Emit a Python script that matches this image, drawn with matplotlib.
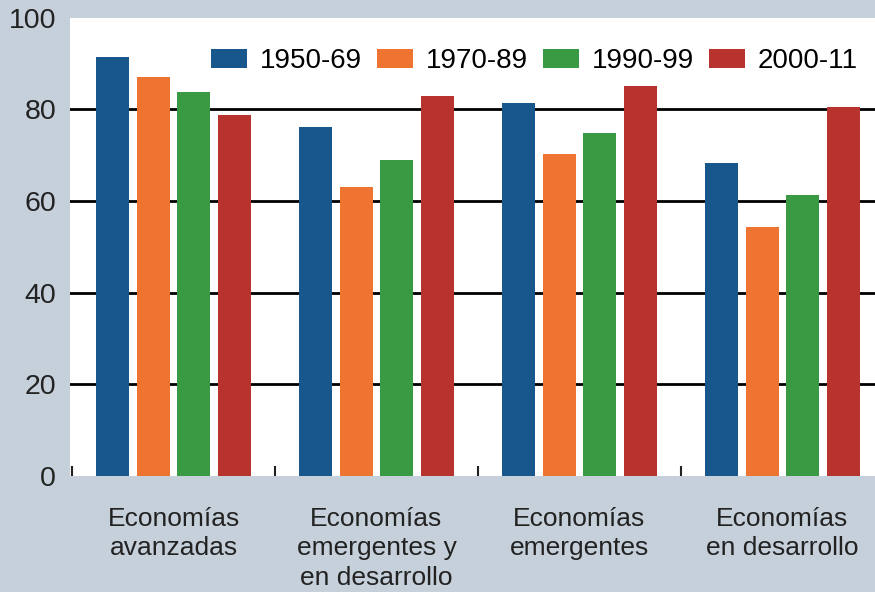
import numpy as np
import matplotlib.pyplot as plt

plt.rcParams['font.family'] = ['Liberation Sans', 'DejaVu Sans']

# Données
categories = ["Economías\navanzadas", "Economías\nemergentes y\nen desarrollo",
              "Economías\nemergentes", "Economías\nen desarrollo"]
periodes = ["1950-69", "1970-89", "1990-99", "2000-11"]
v_1950_69 = [91.4, 76.1, 81.3, 68.4]
v_1970_89 = [87.0, 63.0, 70.2, 54.4]
v_1990_99 = [83.7, 68.9, 74.8, 61.4]
v_2000_11 = [78.7, 82.9, 85.1, 80.5]
series = [v_1950_69, v_1970_89, v_1990_99, v_2000_11]
couleurs = ["#17578c", "#f07431", "#3a9a44", "#b8322e"]

fond = "#c5d0da"
fig = plt.figure(figsize=(8.75, 5.92), dpi=100, facecolor=fond)
ax = fig.add_axes([0.08, 0.196, 0.92, 0.774])
ax.set_facecolor("white")

x = np.arange(len(categories))
largeur = 0.163
pas = 0.2
for i, (vals, lab, c) in enumerate(zip(series, periodes, couleurs)):
    ax.bar(x + (i - 1.5) * pas, vals, largeur, color=c, label=lab, zorder=3)

ax.set_ylim(0, 100)
ax.set_xlim(-0.51, 3.456)
ax.set_yticks([0, 20, 40, 60, 80, 100])
for yv in [20, 40, 60, 80]:
    ax.axhline(yv, color="black", lw=2, zorder=1)

ax.set_xticks(x)
ax.set_xticklabels(categories, fontsize=19, color="#222222", linespacing=1.3)
ax.set_xticks(np.arange(-0.5, 3.5, 1.0), minor=True)
ax.tick_params(axis="x", which="major", length=0, pad=22)
ax.tick_params(axis="x", which="minor", direction="in", length=7, width=1.5, color="#222222")
ax.tick_params(axis="y", length=0, pad=10, labelsize=20.5, labelcolor="#222222")

for s in ax.spines.values():
    s.set_visible(False)

ax.legend(loc="center right", bbox_to_anchor=(0.979, 0.905), ncol=4, frameon=False,
          fontsize=20, handlelength=1.3, handleheight=0.7, handletextpad=0.45,
          columnspacing=0.55, borderpad=0, borderaxespad=0)

plt.savefig("out.png", dpi=100, facecolor=fond)
